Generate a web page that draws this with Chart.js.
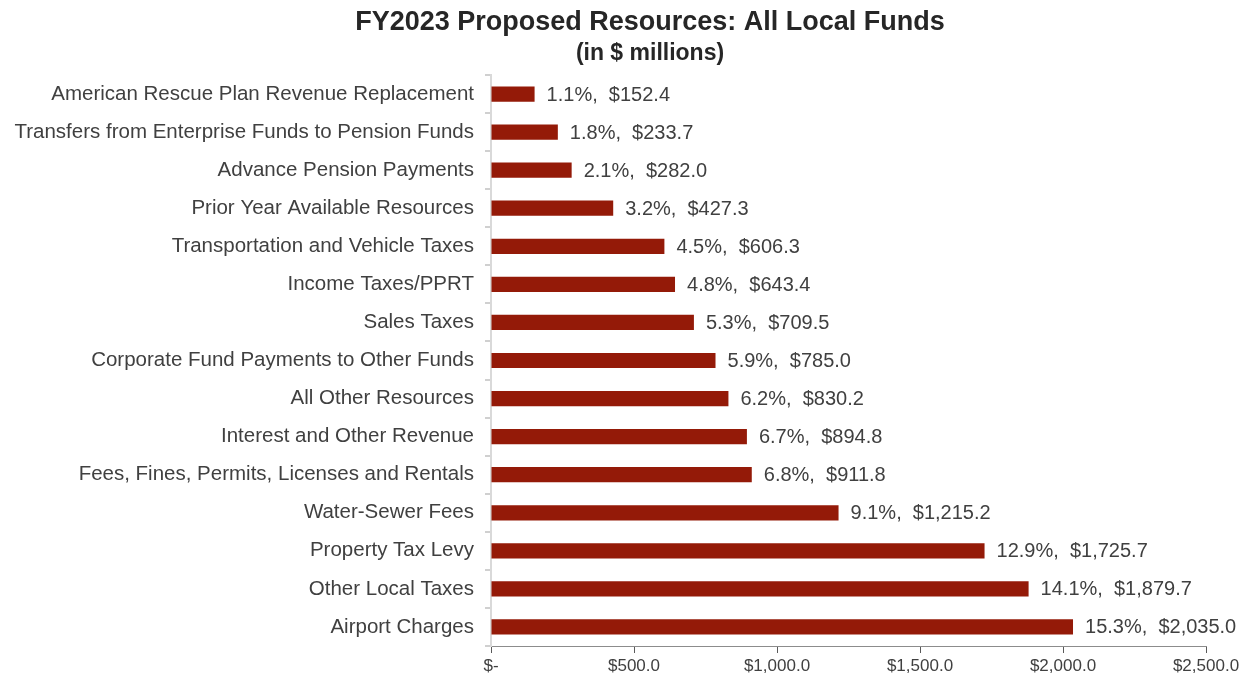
<!DOCTYPE html>
<html>
<head>
<meta charset="utf-8">
<script src="https://cdn.jsdelivr.net/npm/chart.js@4/dist/chart.umd.min.js"></script>
<style>
  html, body { margin: 0; padding: 0; background: #fff; }
  #wrap { width: 1248px; height: 681px; }
</style>
</head>
<body>
<div id="wrap"><canvas id="chart"></canvas></div>
<script>
// top to bottom, as in the picture
const categories = [
  'American Rescue Plan Revenue Replacement',
  'Transfers from Enterprise Funds to Pension Funds',
  'Advance Pension Payments',
  'Prior Year Available Resources',
  'Transportation and Vehicle Taxes',
  'Income Taxes/PPRT',
  'Sales Taxes',
  'Corporate Fund Payments to Other Funds',
  'All Other Resources',
  'Interest and Other Revenue',
  'Fees, Fines, Permits, Licenses and Rentals',
  'Water-Sewer Fees',
  'Property Tax Levy',
  'Other Local Taxes',
  'Airport Charges'
];
const amounts = [152.4, 233.7, 282.0, 427.3, 606.3, 643.4, 709.5, 785.0, 830.2, 894.8, 911.8, 1215.2, 1725.7, 1879.7, 2035.0];
const shares = [1.1, 1.8, 2.1, 3.2, 4.5, 4.8, 5.3, 5.9, 6.2, 6.7, 6.8, 9.1, 12.9, 14.1, 15.3];
const xTicks = [0, 500, 1000, 1500, 2000, 2500];

const FONT = '"Liberation Sans", Arial, sans-serif';
const money = v => '$' + v.toLocaleString('en-US', { minimumFractionDigits: 1, maximumFractionDigits: 1 });

// title drawn by hand: the original sits a little right of centre
const titles = {
  id: 'titles',
  afterDraw(chart) {
    const ctx = chart.ctx;
    const cx = chart.width / 2 + 26;
    ctx.save();
    ctx.fillStyle = '#262626';
    ctx.textAlign = 'center';
    ctx.textBaseline = 'middle';
    ctx.font = 'bold 27px ' + FONT;
    ctx.fillText('FY2023 Proposed Resources: All Local Funds', cx, 23);
    ctx.font = 'bold 23px ' + FONT;
    ctx.fillText('(in $ millions)', cx, 54);
    ctx.restore();
  }
};

const barLabels = {
  id: 'barLabels',
  afterDatasetsDraw(chart) {
    const ctx = chart.ctx;
    const meta = chart.getDatasetMeta(0);
    ctx.save();
    ctx.font = '20px ' + FONT;
    ctx.fillStyle = '#404040';
    ctx.textBaseline = 'middle';
    meta.data.forEach((bar, i) => {
      ctx.fillText(shares[i].toFixed(1) + '%,  ' + money(amounts[i]), bar.x + 12, bar.y + 1);
    });
    ctx.restore();
  }
};

new Chart(document.getElementById('chart'), {
  type: 'bar',
  data: {
    labels: categories,
    datasets: [{
      data: amounts,
      backgroundColor: '#941a08',
      borderWidth: 0,
      barPercentage: 0.4,
      categoryPercentage: 1
    }]
  },
  options: {
    indexAxis: 'y',
    responsive: true,
    maintainAspectRatio: false,
    animation: false,
    layout: { padding: { left: 10, right: 42, top: 75, bottom: 0 } },
    plugins: {
      legend: { display: false },
      tooltip: { enabled: false },
      title: { display: false }
    },
    scales: {
      x: {
        min: 0,
        max: 2500,
        afterBuildTicks(scale) { scale.ticks = xTicks.map(v => ({ value: v })); },
        afterFit(scale) { scale.height = 35; },
        grid: { drawOnChartArea: false, drawTicks: true, tickLength: 7, color: '#595959' },
        border: { display: true, color: '#8c8c8c', width: 1 },
        ticks: {
          color: '#404040',
          padding: 3,
          font: { family: FONT, size: 17 },
          callback: v => v === 0 ? '$-' : money(v)
        }
      },
      y: {
        afterFit(scale) { scale.width = 491 - 10; },
        grid: { drawOnChartArea: false, drawTicks: true, tickLength: 6, color: '#d0d0d0', lineWidth: 2 },
        border: { display: true, color: '#d9d9d9', width: 2 },
        ticks: {
          color: '#404040',
          padding: 11,
          autoSkip: false,
          font: { family: FONT, size: 20.5 }
        }
      }
    }
  },
  plugins: [barLabels, titles]
});
</script>
</body>
</html>
